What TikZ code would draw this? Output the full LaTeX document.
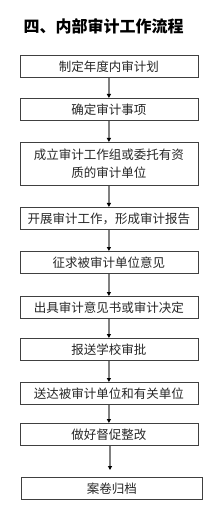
\documentclass[tikz,border=0pt]{standalone}
\usepackage{fontspec}
\newfontfamily\cjk{Noto Sans CJK SC}
\newfontfamily\cjkb{Noto Sans CJK SC Black}
\usetikzlibrary{arrows.meta}
\begin{document}
\begin{tikzpicture}[x=1pt,y=-1pt,
  stepbox/.style={draw=black!75,line width=0.8pt,minimum width=178pt,minimum height=22pt,inner sep=0pt,
     font=\cjk\fontsize{12.5}{18}\selectfont,text=black!85,align=center,anchor=north west},
  conn/.style={draw=black!50,line width=1.3pt,-{Triangle[length=4pt,width=4pt,color=black]}}]
\useasboundingbox (0,0) rectangle (222,518);
\node[anchor=west,font=\cjkb\fontsize{16}{18}\selectfont] (title) at (20,26) {四、内部审计工作流程};
\node[stepbox] (b1) at (19.5,55) {制定年度内审计划};
\node[stepbox] (b2) at (19.5,98) {确定审计事项};
\node[stepbox,minimum height=43pt] (b3) at (19.5,142) {成立审计工作组或委托有资\\质的审计单位};
\node[stepbox] (b4) at (19.5,207) {开展审计工作，形成审计报告};
\node[stepbox] (b5) at (19.5,251) {征求被审计单位意见};
\node[stepbox] (b6) at (19.5,296) {出具审计意见书或审计决定};
\node[stepbox] (b7) at (19.5,338) {报送学校审批};
\node[stepbox] (b8) at (19.5,382) {送达被审计单位和有关单位};
\node[stepbox] (b9) at (19.5,423) {做好督促整改};
\node[stepbox,minimum width=181pt] (b10) at (21,477) {案卷归档};
\draw[conn] (b1.south) -- (b2.north);
\draw[conn] (b2.south) -- (b3.north);
\draw[conn] (b3.south) -- (b4.north);
\draw[conn] (b4.south) -- (b5.north);
\draw[conn] (b5.south) -- (b6.north);
\draw[conn] (b6.south) -- (b7.north);
\draw[conn] (b7.south) -- (b8.north);
\draw[conn] (b8.south) -- (b9.north);
\coordinate (a10) at (110,470);
\draw[conn] (b9.south -| a10) -- (a10);
\end{tikzpicture}
\end{document}
